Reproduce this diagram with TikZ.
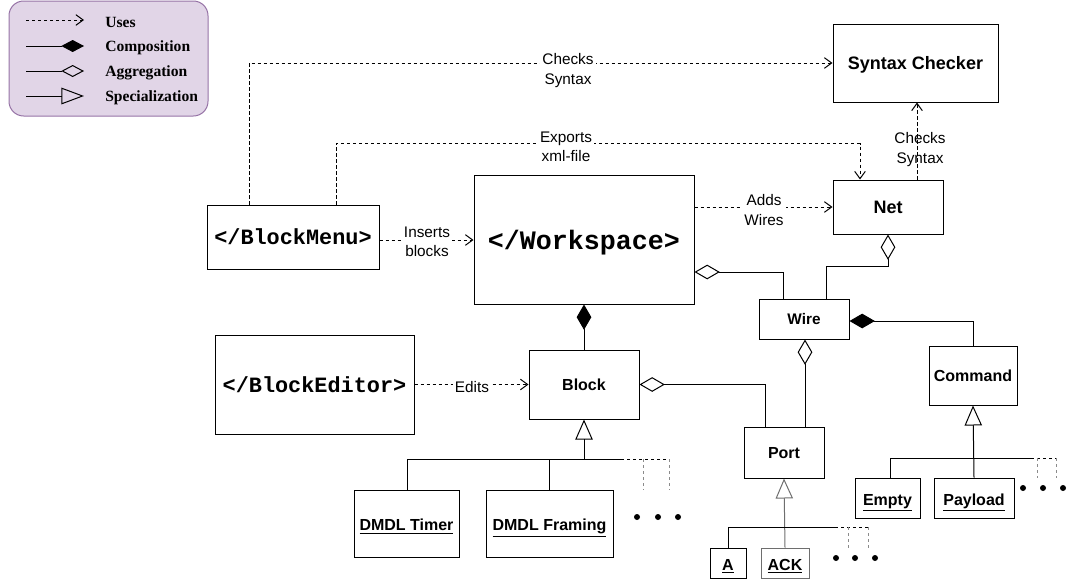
\documentclass[tikz,border=0pt]{standalone}
\usepackage{fontspec}
\setmainfont{Liberation Sans}
\newfontfamily\monob{Liberation Mono}
\newfontfamily\serifb{Liberation Serif}
\usetikzlibrary{arrows.meta}
\definecolor{legfill}{HTML}{E1D5E7}
\definecolor{legdraw}{HTML}{9673A6}
\definecolor{dimgray}{HTML}{6E6E6E}
\tikzset{
  box/.style={draw, line width=0.75pt, inner sep=0pt, align=center, text depth=0pt, font=\bfseries\fontsize{12}{14}\selectfont},
  ul/.style={text height=11pt},
  lab/.style={fill=white, inner sep=1.5pt, align=center, font=\fontsize{11.5}{14.6}\selectfont},
  legtext/.style={anchor=west, inner sep=0pt, font=\serifb\bfseries\fontsize{11.7}{13}\selectfont},
  uses/.style={draw, line width=0.75pt, dash pattern=on 2.5pt off 2pt, -{Straight Barb[length=5.5pt,width=8pt]}},
  comp/.style={draw, line width=0.75pt, {Diamond[length=19pt,width=11pt]}-},
  agg/.style={draw, line width=0.75pt, {Diamond[open,length=19pt,width=11pt]}-},
  spec/.style={draw, line width=0.75pt, {Triangle[open,length=15pt,width=13pt]}-},
  plain/.style={draw, line width=0.75pt},
  dashh/.style={draw, line width=0.75pt, dash pattern=on 2.5pt off 2pt},
  dashv/.style={draw, line width=0.75pt, dimgray!80, dash pattern=on 2.5pt off 2pt},
  dot/.style={fill=black, circle, inner sep=0pt, minimum size=4.5pt},
}
\begin{document}
\begin{tikzpicture}[x=0.75pt, y=-0.75pt]
\useasboundingbox (0,0) rectangle (1067,579);

% legend
\draw[fill=legfill, draw=legdraw, line width=0.75pt, rounded corners=11pt] (9,1) rectangle (208,116);
\coordinate (l1a) at (26,20); \coordinate (l1b) at (84,20);
\coordinate (l2a) at (26,46); \coordinate (l2b) at (84,46);
\coordinate (l3a) at (26,71); \coordinate (l3b) at (84,71);
\coordinate (l4a) at (26,96); \coordinate (l4b) at (84,96);
\draw[line width=0.75pt, dash pattern=on 2.5pt off 2pt, -{Straight Barb[length=5.5pt,width=8pt]}] (l1a) -- (l1b);
\draw[line width=0.75pt, -{Diamond[length=17pt,width=9pt]}] (l2a) -- (l2b);
\draw[line width=0.75pt, -{Diamond[open,length=17pt,width=9pt]}] (l3a) -- (l3b);
\draw[line width=0.75pt, -{Triangle[open,length=17pt,width=12.5pt]}] (l4a) -- (l4b);
\node[legtext] (t1) at (105,22) {Uses};
\node[legtext] (t2) at (105,48) {Composition};
\node[legtext] (t3) at (105,73) {Aggregation};
\node[legtext] (t4) at (105,98) {Specialization};

% boxes
\node[box, minimum width=123.75pt, minimum height=58.5pt, font=\bfseries\fontsize{13.5}{16}\selectfont] (sc) at (915.5,63) {Syntax Checker};
\node[box, minimum width=129pt, minimum height=48pt, font=\monob\bfseries\fontsize{16.4}{18}\selectfont] (bm) at (293,237) {</BlockMenu>};
\node[box, minimum width=165pt, minimum height=96.75pt, font=\monob\bfseries\fontsize{20}{22}\selectfont] (ws) at (584,239.5) {</Workspace>};
\node[box, minimum width=82.5pt, minimum height=40.5pt, font=\bfseries\fontsize{13.5}{16}\selectfont] (net) at (888,207) {Net};
\node[box, minimum width=67.5pt, minimum height=30pt, font=\bfseries\fontsize{11.5}{14}\selectfont] (wire) at (804,319) {Wire};
\node[box, minimum width=149.25pt, minimum height=74.25pt, font=\monob\bfseries\fontsize{16.4}{18}\selectfont] (be) at (314.5,384.5) {</BlockEditor>};
\node[box, minimum width=82.5pt, minimum height=51.75pt] (blk) at (584,384.5) {Block};
\node[box, minimum width=66pt, minimum height=44.25pt] (cmd) at (973,375.5) {Command};
\node[box, minimum width=60pt, minimum height=38.25pt] (port) at (784,452.5) {Port};
\node[box, ul, minimum width=78.75pt, minimum height=50.25pt] (tim) at (406.5,523.5) {\underline{DMDL Timer}};
\node[box, ul, minimum width=95.25pt, minimum height=50.25pt] (fr) at (549.5,523.5) {\underline{DMDL Framing}};
\node[box, ul, minimum width=48.75pt, minimum height=30pt] (emp) at (887.5,498) {\underline{Empty}};
\node[box, ul, minimum width=60pt, minimum height=30pt] (pay) at (974,498) {\underline{Payload}};
\node[box, ul, minimum width=27pt, minimum height=22.5pt] (a) at (728,563) {\underline{A}};
\node[box, ul, draw=dimgray, minimum width=36pt, minimum height=22.5pt] (ack) at (785,563) {\underline{ACK}};

% uses connectors
\draw[uses] ([shift={(-44,0)}]bm.north) |- (sc.west);
\node[lab] (lcs1) at (568,70.5) {Checks\\Syntax};
\draw[uses] ([shift={(43,0)}]bm.north) |- ([shift={(-28,-36)}]net.north) -- ([shift={(-28,0)}]net.north);
\node[lab] (lex) at (566,147) {Exports\\xml-file};
\draw[uses] ([shift={(29,0)}]net.north) -- ([shift={(29,0)}]net.north |- sc.south);
\node[lab, fill=none] (lcs2) at (920,149.5) {Checks\\Syntax};
\draw[uses] (bm.east |- 0,240) -- (ws.west |- 0,240);
\node[lab] (lin) at (427,242) {Inserts\\blocks};
\draw[uses] (ws.east |- net.west) -- (net.west);
\node[lab] (lad) at (764,210) {Adds\\Wires};
\draw[uses] (be.east) -- (blk.west);
\node[lab] (led) at (472,387) {Edits};

% composition / aggregation
\draw[comp] (ws.south) -- (blk.north);
\draw[agg] ([shift={(0,32.5)}]ws.east) -| ([shift={(-21,0)}]wire.north);
\draw[agg] (net.south) -- ++(0,32) -| ([shift={(22,0)}]wire.north);
\draw[comp] ([shift={(0,2)}]wire.east) -| (cmd.north);
\draw[agg] ([shift={(1,0)}]wire.south) -- ([shift={(21,0)}]port.north);
\draw[agg] (blk.east) -| ([shift={(-19,0)}]port.north);

% specialization: block
\coordinate (bj) at (584,459);
\coordinate (bl) at (407,459);
\coordinate (br) at (621,459);
\coordinate (bd) at (669,459);
\draw[spec] (blk.south) -- (bj);
\draw[plain] (bl) -- (br);
\draw[dashh] (br) -- (bd);
\draw[plain] (bl) -- (tim.north -| bl);
\draw[plain] (fr.north |- bl) -- (fr.north);
\draw[dashv] (643,459) -- (643,490);
\draw[dashv] (bd) -- (669,490);
\node[dot] (d1) at (637,517) {};
\node[dot] (d2) at (658,517) {};
\node[dot] (d3) at (678,517) {};

% specialization: port
\coordinate (pl) at (728,527);
\coordinate (pr) at (835,527);
\coordinate (pd) at (868,527);
\draw[spec, draw=dimgray] (port.south) -- (ack.north);
\draw[plain] (pl) -- (pr);
\draw[dashh] (pr) -- (pd);
\draw[plain] (pl) -- (a.north);
\draw[dashv] (848,527) -- (848,548);
\draw[dashv] (pd) -- (868,548);
\node[dot] (d4) at (836,558) {};
\node[dot] (d5) at (855,558) {};
\node[dot] (d6) at (875,558) {};

% specialization: command
\coordinate (cl) at (890,458);
\coordinate (cr) at (1031,458);
\coordinate (cd) at (1056,458);
\draw[spec] (cmd.south) -- (pay.north);
\draw[plain] (cl) -- (cr);
\draw[dashh] (cr) -- (cd);
\draw[plain] (cl) -- (emp.north -| cl);
\draw[dashv] (1037,458) -- (1037,478);
\draw[dashv] (cd) -- (1056,478);
\node[dot] (d7) at (1023,488) {};
\node[dot] (d8) at (1043,488) {};
\node[dot] (d9) at (1063,488) {};
\end{tikzpicture}
\end{document}
